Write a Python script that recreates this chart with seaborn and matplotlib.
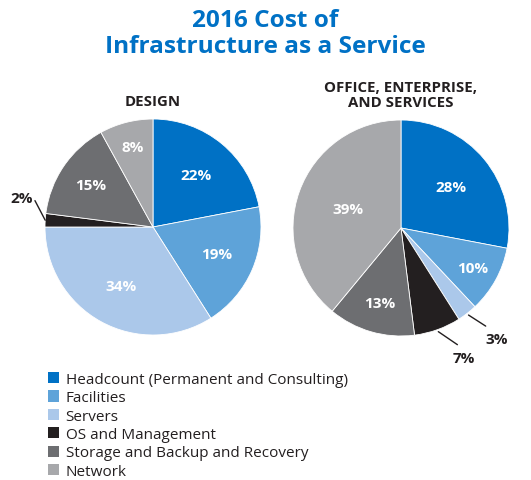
"""2016 cost of infrastructure as a service: two pie charts."""

import matplotlib

matplotlib.use("Agg")
import matplotlib.pyplot as plt
import numpy as np
import seaborn as sns
from matplotlib.patches import Patch

categories = [
    "Headcount (Permanent and Consulting)",
    "Facilities",
    "Servers",
    "OS and Management",
    "Storage and Backup and Recovery",
    "Network",
]
design_pct = [22, 19, 34, 2, 15, 8]
office_pct = [28, 10, 3, 7, 13, 39]
chart_title = "2016 Cost of\nInfrastructure as a Service"
design_title = "DESIGN"
office_title = "OFFICE, ENTERPRISE,\nAND SERVICES"

sns.set_theme(style="white")
plt.rcParams["font.family"] = ["Open Sans", "DejaVu Sans"]

palette = sns.color_palette(
    ["#0071c5", "#5ea3d9", "#abc8ea", "#231f20", "#6d6e71", "#a7a8ab"]
)
DARK = "#231f20"

fig = plt.figure(figsize=(5.31, 4.81), dpi=100)


def draw_pie(ax, values, title, inside_dist, outside):
    wedges, _ = ax.pie(
        values,
        colors=palette,
        startangle=90,
        counterclock=False,
        radius=1.0,
        wedgeprops=dict(edgecolor="white", linewidth=0.6),
    )
    for i, (w, v) in enumerate(zip(wedges, values)):
        mid = np.deg2rad((w.theta1 + w.theta2) / 2)
        if i in outside:
            r0, r1, r_txt, dang = outside[i]
            a2 = mid + np.deg2rad(dang)
            ax.plot(
                [r0 * np.cos(mid), r1 * np.cos(a2)],
                [r0 * np.sin(mid), r1 * np.sin(a2)],
                color=DARK, lw=1.0, clip_on=False,
            )
            ax.text(r_txt * np.cos(a2), r_txt * np.sin(a2), f"{v}%",
                    ha="center", va="center", fontsize=11,
                    fontweight="bold", color=DARK)
        else:
            d = inside_dist[i]
            ax.text(d * np.cos(mid), d * np.sin(mid), f"{v}%",
                    ha="center", va="center", fontsize=11,
                    fontweight="bold", color="white")
    ax.set_xlim(-1, 1)
    ax.set_ylim(-1, 1)
    ax.set_aspect("equal")
    ax.text(0, 1.1, title, ha="center", va="bottom", fontsize=10.8,
            fontweight="bold", color=DARK, linespacing=1.1)


w_ax = 216 / 531
h_ax = 216 / 481
ax1 = fig.add_axes([153 / 531 - w_ax / 2, 1 - 228 / 481 - h_ax / 2, w_ax, h_ax])
ax2 = fig.add_axes([401 / 531 - w_ax / 2, 1 - 229 / 481 - h_ax / 2, w_ax, h_ax])

draw_pie(ax1, design_pct, design_title,
         [0.62, 0.64, 0.62, 0, 0.70, 0.76],
         {3: (1.0, 1.12, 1.25, -9)})
draw_pie(ax2, office_pct, office_title,
         [0.60, 0.76, 0, 0, 0.72, 0.52],
         {2: (1.02, 1.2, 1.36, 3), 3: (1.02, 1.2, 1.34, 6)})

fig.text(0.5, 1 - 9 / 481, chart_title, ha="center", va="top",
         fontsize=17.6, fontweight="bold", color="#0071c5", linespacing=1.13)

handles = [Patch(facecolor=c, edgecolor="none") for c in palette]
fig.legend(handles, categories, loc="upper left",
           bbox_to_anchor=(48 / 531, 1 - 373 / 481), frameon=False,
           fontsize=11, labelcolor=DARK, handlelength=0.75,
           handleheight=0.75, handletextpad=0.4, labelspacing=0.22,
           borderaxespad=0, borderpad=0)

fig.savefig("out.png", dpi=100)
